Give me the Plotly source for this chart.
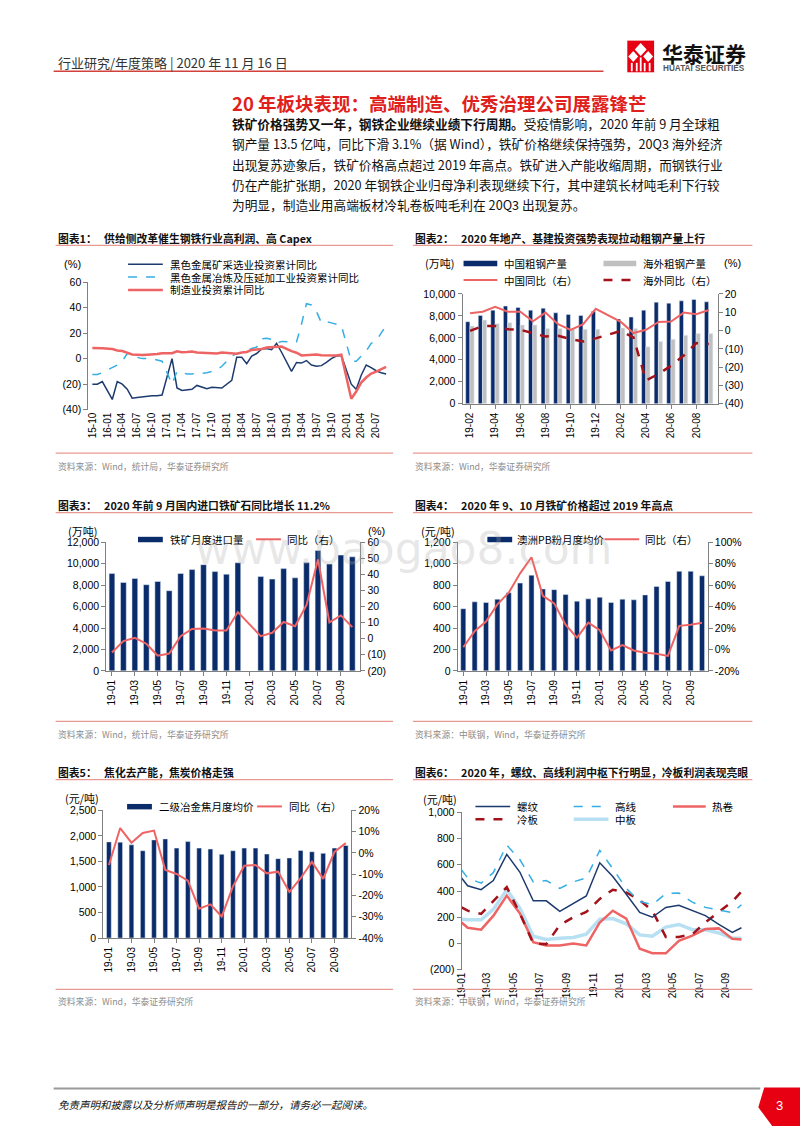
import plotly.graph_objects as go

W, H = 800, 1132
def fx(x): return x / W
def fy(y): return 1 - y / H

NUM = "Liberation Sans, Arial, Noto Sans CJK SC, sans-serif"
CJK = "Noto Sans CJK SC, Liberation Sans, sans-serif"

NAVY = "#0b2c6a"
GRAY_BAR = "#c0c0c0"
PINK = "#ee6464"
CYAN = "#36aee3"
DARKRED = "#a3121b"
LIGHTBLUE = "#b8e0f3"
NAVY_LINE = "#1d3a6e"
RED = "#e0201b"
SALMON = "#e89a92"
AXIS = "#808080"

# ---------------- data: chart 1 ----------------
c1_months = ["15-10", "15-11", "15-12",
             "16-01", "16-02", "16-03", "16-04", "16-05", "16-06", "16-07", "16-08", "16-09", "16-10", "16-11", "16-12",
             "17-01", "17-02", "17-03", "17-04", "17-05", "17-06", "17-07", "17-08", "17-09", "17-10", "17-11", "17-12",
             "18-01", "18-02", "18-03", "18-04", "18-05", "18-06", "18-07", "18-08", "18-09", "18-10", "18-11", "18-12",
             "19-01", "19-02", "19-03", "19-04", "19-05", "19-06", "19-07", "19-08", "19-09", "19-10", "19-11", "19-12",
             "20-01", "20-02", "20-03", "20-04", "20-05", "20-06", "20-07", "20-08", "20-09"]
c1_ticks = ["15-10", "16-01", "16-04", "16-07", "16-10", "17-01", "17-04", "17-07", "17-10", "18-01",
            "18-04", "18-07", "18-10", "19-01", "19-04", "19-07", "19-10", "20-01", "20-04", "20-07"]
c1_mining = [-20, -20, -18,
             None, -32, -18, -20, -24, -31, -30.5, -30, -29, -29, -29, -28.5,
             None, 0, -23, -25, -24.5, -24, -21, -22, -23.5, -22.5, -23, -23,
             None, -17, 1, 1, -4, 2, 4, 7.5, 8, 7, 12, 5,
             None, -10, -3, -3.5, -1.5, -5, -6, -5.5, -3, 0, 2, 2.5,
             None, -20, -24, -13, -5, -7, -9.5, -11, -12]
c1_smelting = [-12.5, -12.5, -11,
               None, -7, -5, -2, 4, 4, 1, 0, 0, 0, -1, -2,
               None, -20, -10, -11, -12, -12, -12, -11.5, -11, -10, -9, -6,
               None, 2, 4, 4.5, 6, 8, 9, 15.5, 16, 15, 12, 13.5,
               None, 13, 13, 27, 43, 42, 37, 28, 29, 28, 27, 26,
               None, -2, -2, 2, 6, 12, 14, 20, 26]
c1_manuf = [8.3, 8.3, 8.1,
            None, 7.5, 6.4, 6.0, 4.6, 3.3, 3.1, 2.8, 3.1, 3.1, 3.6, 4.2,
            None, 4.3, 5.8, 5.0, 5.1, 5.5, 4.8, 4.5, 4.2, 4.1, 4.1, 4.8,
            None, 4.3, 3.8, 4.8, 5.2, 6.8, 7.3, 7.5, 8.7, 9.1, 9.5, 9.5,
            None, 5.9, 4.6, 2.5, 2.7, 3.0, 3.3, 2.6, 2.5, 2.6, 2.5, 3.1,
            None, -31.5, -25.8, -18.8, -14.8, -11.7, -10.2, -8.1, -6.5]

# ---------------- data: chart 2 ----------------
c2_months = ["19-02", "19-03", "19-04", "19-05", "19-06", "19-07", "19-08", "19-09", "19-10", "19-11", "19-12",
             "20-01", "20-02", "20-03", "20-04", "20-05", "20-06", "20-07", "20-08", "20-09"]
c2_ticks = ["19-02", "19-04", "19-06", "19-08", "19-10", "19-12", "20-02", "20-04", "20-06", "20-08"]
c2_china = [7470, 8040, 8520, 8890, 8770, 8520, 8700, 8280, 8130, 8040, 8430,
            None, 7710, 7890, 8520, 9250, 9160, 9370, 9490, 9280]
c2_overseas = [7080, 7620, 7290, 7380, 7170, 7170, 6840, 6850, 6840, 6780, 6780,
               None, 6900, 6840, 5180, 5660, 5870, 6230, 6390, 6390]
c2_china_yoy = [9.4, 10.3, 13.0, 10.3, 10.3, 5.0, 9.8, 3.5, 0.3, 3.5, 11.9,
                None, 4.7, -1.4, 0.4, 4.7, 4.9, 9.8, 8.9, 11.2]
c2_overseas_yoy = [-0.2, 2.5, 2.5, 0.7, 0.4, -1.6, -3.3, -2.9, -4.7, -6.0, -4.3,
                   None, -0.2, -3.8, -27.3, -23.7, -19.2, -13.7, -6.9, -7.4]

# ---------------- data: charts 3-5 ----------------
m22 = ["19-01", "19-02", "19-03", "19-04", "19-05", "19-06", "19-07", "19-08", "19-09", "19-10", "19-11", "19-12",
       "20-01", "20-02", "20-03", "20-04", "20-05", "20-06", "20-07", "20-08", "20-09", "20-10"]
m22_ticks = ["19-01", "19-03", "19-05", "19-07", "19-09", "19-11", "20-01", "20-03", "20-05", "20-07", "20-09"]

c3_imports = [9080, 8250, 8620, 8040, 8340, 7480, 9080, 9450, 9910, 9260, 9020, 10090,
              None, 8800, 8560, 9540, 8680, 10120, 11230, 9970, 10800, 10640]
c3_yoy = [-8.6, -1.5, 0.6, -3.1, -10.6, -9.2, 1.6, 6.1, 6.3, 5.1, 5.1, 16.6,
          None, 1.6, 3.7, 10.4, 7.8, 21.0, 49.3, 10.2, 14.5, 7.2]

c4_price = [580, 644, 638, 669, 730, 819, 893, 764, 758, 712, 650, 672,
            687, 638, 669, 663, 709, 788, 834, 929, 929, 887]
c4_yoy = [2, 17, 26, 42, 53, 71, 86, 50, 43, 23, 11, 25,
          18, -1, 4, -1, -3, -4, -6, 22, 23, 25]

c5_price = [1883, 1877, 1825, 1710, 1922, 1941, 1761, 1889, 1761, 1742, 1639, 1710,
            1761, 1761, 1645, 1555, 1568, 1716, 1690, 1658, 1761, 1812]
c5_yoy = [-5.7, 11.7, 4.8, 9.4, 10.5, -8.0, -9.9, -13.0, -26.2, -24.2, -29.9, -15.7,
          -6.0, -5.7, -9.6, -8.8, -18.4, -11.9, -4.2, -12.2, 0.5, 4.6]

# ---------------- data: chart 6 ----------------
c6_dates = ["2019-01-01", "2019-01-15", "2019-02-15", "2019-03-15", "2019-04-15", "2019-05-15", "2019-06-15",
            "2019-07-15", "2019-08-15", "2019-09-15", "2019-10-15", "2019-11-15", "2019-12-15",
            "2020-01-15", "2020-02-15", "2020-03-15", "2020-04-15", "2020-05-15", "2020-06-15",
            "2020-07-15", "2020-08-15", "2020-09-15", "2020-10-06"]
c6_tickdates = ["2019-01-01", "2019-03-01", "2019-05-01", "2019-07-01", "2019-09-01", "2019-11-01",
                "2020-01-01", "2020-03-01", "2020-05-01", "2020-07-01", "2020-09-01"]
c6_ticks = ["19-01", "19-03", "19-05", "19-07", "19-09", "19-11", "20-01", "20-03", "20-05", "20-07", "20-09"]
c6_rebar = [500, 440, 410, 480, 680, 545, 325, 325, 245, 305, 362, 615, 510, 375, 237, 200, 275, 292, 250, 212, 145, 85, 120]
c6_wire = [560, 500, 460, 540, 750, 640, 470, 480, 420, 470, 500, 710, 570, 420, 320, 295, 380, 385, 315, 275, 255, 235, 295]
c6_hot = [160, 120, 105, 210, 365, 230, 10, -15, -15, 0, -15, 160, 250, 190, -40, -75, -75, 20, 60, 110, 115, 35, 30]
c6_cold = [275, 250, 225, 320, 430, 230, 0, -5, 140, 200, 240, 340, 410, 390, 330, 250, 50, 50, 70, 160, 240, 320, 395]
c6_plate = [185, 180, 180, 260, 410, 270, 55, 30, 40, 45, 70, 185, 190, 150, 65, 55, 125, 145, 105, 105, 80, 40, 40]

# ---------------- traces ----------------
fig = go.Figure()

def line(x, y, color, width, xa, ya, dash="solid"):
    fig.add_trace(go.Scatter(x=x, y=y, mode="lines", connectgaps=True,
                             line=dict(color=color, width=width, dash=dash),
                             xaxis=xa, yaxis=ya, hoverinfo="skip"))

# chart 1
line(c1_months, c1_mining, NAVY_LINE, 1.5, "x", "y")
line(c1_months, c1_smelting, CYAN, 1.5, "x", "y", "dash")
line(c1_months, c1_manuf, PINK, 2.5, "x", "y")

# chart 2
fig.add_trace(go.Bar(x=c2_months, y=c2_china, marker_color=NAVY, width=0.33, offset=-0.35,
                     xaxis="x2", yaxis="y2", hoverinfo="skip"))
fig.add_trace(go.Bar(x=c2_months, y=c2_overseas, marker_color=GRAY_BAR, width=0.33, offset=-0.01,
                     xaxis="x2", yaxis="y2", hoverinfo="skip"))
line(c2_months, c2_china_yoy, PINK, 2, "x2", "y3")
line(c2_months, c2_overseas_yoy, DARKRED, 2.5, "x2", "y3", "dash")

# chart 3
fig.add_trace(go.Bar(x=m22, y=c3_imports, marker_color=NAVY, width=0.5, xaxis="x3", yaxis="y4", hoverinfo="skip"))
line(m22, c3_yoy, PINK, 2, "x3", "y5")

# chart 4
fig.add_trace(go.Bar(x=m22, y=c4_price, marker_color=NAVY, width=0.45, xaxis="x4", yaxis="y6", hoverinfo="skip"))
line(m22, c4_yoy, PINK, 2, "x4", "y7")

# chart 5
fig.add_trace(go.Bar(x=m22, y=c5_price, marker_color=NAVY, width=0.42, xaxis="x5", yaxis="y8", hoverinfo="skip"))
line(m22, c5_yoy, PINK, 2, "x5", "y9")

# chart 6
line(c6_dates, c6_plate, LIGHTBLUE, 3.5, "x6", "y10")
line(c6_dates, c6_hot, PINK, 2.5, "x6", "y10")
line(c6_dates, c6_cold, DARKRED, 2.5, "x6", "y10", "dash")
line(c6_dates, c6_wire, CYAN, 1.5, "x6", "y10", "dash")
line(c6_dates, c6_rebar, NAVY_LINE, 1.5, "x6", "y10")

# ---------------- axes ----------------
def ax(**kw):
    d = dict(showgrid=False, zeroline=False, showline=True, linecolor=AXIS, linewidth=1,
             ticks="outside", ticklen=4, tickcolor=AXIS, tickwidth=1,
             tickfont=dict(family=NUM, size=10.5, color="#000"))
    d.update(kw)
    return d

def xcat(dom, anchor, rng, tickvals, **kw):
    return ax(domain=dom, anchor=anchor, type="category", range=rng, tickvals=tickvals,
              tickangle=-90, tickfont=dict(family=NUM, size=10, color="#000"), **kw)

def paren(v):
    return "(%d)" % abs(v) if v < 0 else "%d" % v

def zero_pos(bottom_px, top_px, lo, hi):
    return fy(bottom_px) + (0 - lo) / (hi - lo) * (fy(top_px) - fy(bottom_px))

c1_y = [-40, -20, 0, 20, 40, 60]
c2_yr = [-40, -30, -20, -10, 0, 10, 20]
c3_yr = [-20, -10, 0, 10, 20, 30, 40, 50, 60]
c4_yr = [-20, 0, 20, 40, 60, 80, 100]
c5_yr = [-40, -30, -20, -10, 0, 10, 20]
c6_y = [-200, 0, 200, 400, 600, 800, 1000]

layout_axes = dict(
    xaxis=xcat([fx(83), fx(387)], "y", [-0.8, 59.8], c1_ticks, showline=False, ticks=""),
    yaxis=ax(domain=[fy(408), fy(279)], anchor="x", range=[-40, 60], tickvals=c1_y,
             ticktext=[paren(v) for v in c1_y]),
    xaxis7=ax(overlaying="x", anchor="free", position=zero_pos(408, 279, -40, 60), type="linear",
              range=[-0.8, 59.8], tickvals=[c1_months.index(t) for t in c1_ticks], showticklabels=False),

    xaxis2=xcat([fx(460), fx(717)], "y2", [-0.6, 19.7], c2_ticks),
    yaxis2=ax(domain=[fy(402), fy(291)], anchor="x2", range=[0, 10000], dtick=2000, tickformat=","),
    yaxis3=ax(overlaying="y2", side="right", anchor="x2", range=[-40, 20], tickvals=c2_yr,
              ticktext=[paren(v) for v in c2_yr]),

    xaxis3=xcat([fx(101), fx(357)], "y4", [-0.5, 21.7], m22_ticks),
    yaxis4=ax(domain=[fy(672), fy(542)], anchor="x3", range=[0, 12000], dtick=2000, tickformat=","),
    yaxis5=ax(overlaying="y4", side="right", anchor="x3", range=[-20, 60], tickvals=c3_yr,
              ticktext=[paren(v) for v in c3_yr]),

    xaxis4=xcat([fx(455), fx(707)], "y6", [-0.5, 21.5], m22_ticks),
    yaxis6=ax(domain=[fy(672), fy(542)], anchor="x4", range=[0, 1200], dtick=200, tickformat=","),
    yaxis7=ax(overlaying="y6", side="right", anchor="x4", range=[-20, 100], tickvals=c4_yr,
              ticktext=["%d%%" % v for v in c4_yr]),

    xaxis5=xcat([fx(98), fx(348)], "y8", [-0.5, 21.5], m22_ticks),
    yaxis8=ax(domain=[fy(942), fy(813)], anchor="x5", range=[0, 2500], dtick=500, tickformat=","),
    yaxis9=ax(overlaying="y8", side="right", anchor="x5", range=[-40, 20], tickvals=c5_yr,
              ticktext=["%d%%" % v for v in c5_yr]),

    xaxis6=ax(domain=[fx(459), fx(748)], anchor="y10", type="date", range=["2019-01-01", "2020-10-22"],
              tickvals=c6_tickdates, ticktext=c6_ticks, tickangle=-90, showline=False, ticks="",
              tickfont=dict(family=NUM, size=10, color="#000")),
    yaxis10=ax(domain=[fy(974), fy(815)], anchor="x6", range=[-200, 1000], tickvals=c6_y,
               ticktext=["(200)", "0", "200", "400", "600", "800", "1,000"]),
    xaxis8=ax(overlaying="x6", anchor="free", position=zero_pos(974, 815, -200, 1000), type="date",
              range=["2019-01-01", "2020-10-22"], tickvals=c6_tickdates, showticklabels=False),
)

# ---------------- annotations & shapes ----------------
ann = []
shp = []

def txt(x, y, s, size=10.5, color="#000", family=CJK, xanchor="left", yanchor="middle"):
    ann.append(dict(x=fx(x), y=fy(y), xref="paper", yref="paper", text=s, showarrow=False,
                    xanchor=xanchor, yanchor=yanchor, font=dict(family=family, size=size, color=color)))

def hline(x0, x1, y, color, width=1, dash="solid"):
    shp.append(dict(type="line", xref="paper", yref="paper", x0=fx(x0), x1=fx(x1), y0=fy(y), y1=fy(y),
                    line=dict(color=color, width=width, dash=dash)))

def rect(x0, y0, x1, y1, color):
    shp.append(dict(type="rect", xref="paper", yref="paper", x0=fx(x0), x1=fx(x1), y0=fy(y0), y1=fy(y1),
                    line=dict(width=0), fillcolor=color))

def poly(pts, color):
    path = "M " + " L ".join("%.5f,%.5f" % (fx(a), fy(b)) for a, b in pts) + " Z"
    shp.append(dict(type="path", xref="paper", yref="paper", path=path, line=dict(width=0), fillcolor=color))

# header
txt(50, 57, "行业研究/年度策略 | 2020 年 11 月 16 日", 13, "#333")
hline(48, 602, 66, "#d2413a", 1.5)
rect(626, 35, 653, 67, "#e60012")
poly([(639.5, 37.5), (645.5, 44), (639.5, 50.5), (633.5, 44)], "white")
poly([(632, 45.5), (637, 51), (632, 56.5), (627, 51)], "white")
poly([(647, 45.5), (652, 51), (647, 56.5), (642, 51)], "white")
for xs in (630.5, 635.5, 643.5, 648.5):
    rect(xs - 0.9, 57.5, xs + 0.9, 66, "white")
rect(638.6, 52, 640.4, 66, "white")
txt(659, 47, "<b>华泰证券</b>", 21, "#111")
txt(660, 63.5, "<b>HUATAI SECURITIES</b>", 8.2, "#555", NUM)

# section title & body
txt(226, 98, "<b>20 年板块表现：高端制造、优秀治理公司展露锋芒</b>", 18.5, RED)
body = [
    "<b>铁矿价格强势又一年，钢铁企业继续业绩下行周期。</b>受疫情影响，2020 年前 9 月全球粗",
    "钢产量 13.5 亿吨，同比下滑 3.1%（据 Wind），铁矿价格继续保持强势，20Q3 海外经济",
    "出现复苏迹象后，铁矿价格高点超过 2019 年高点。铁矿进入产能收缩周期，而钢铁行业",
    "仍在产能扩张期，2020 年钢铁企业归母净利表现继续下行，其中建筑长材吨毛利下行较",
    "为明显，制造业用高端板材冷轧卷板吨毛利在 20Q3 出现复苏。",
]
for i, s in enumerate(body):
    txt(226, 119 + i * 20.4, s, 12.7, "#111")

# chart titles, rules and sources
NB = "\u00a0\u00a0\u00a0"
titles = [
    (50, 234, "图表1：" + NB + "供给侧改革催生钢铁行业高利润、高 Capex"),
    (410, 234, "图表2：" + NB + "2020 年地产、基建投资强势表现拉动粗钢产量上行"),
    (50, 504, "图表3：" + NB + "2020 年前 9 月国内进口铁矿石同比增长 11.2%"),
    (410, 504, "图表4：" + NB + "2020 年 9、10 月铁矿价格超过 2019 年高点"),
    (50, 774, "图表5：" + NB + "焦化去产能，焦炭价格走强"),
    (410, 774, "图表6：" + NB + "2020 年，螺纹、高线利润中枢下行明显，冷板利润表现亮眼"),
]
for x, y, s in titles:
    txt(x, y, "<b>" + s + "</b>", 10.8, "#111")
for x0, x1 in ((50, 390), (410, 752)):
    for y in (242, 512, 782):
        hline(x0, x1, y, SALMON, 1.3)
    for y in (452, 723, 994):
        hline(x0, x1, y, SALMON, 1.3)
sources = [
    (50, 465, "资料来源：Wind，统计局，华泰证券研究所"),
    (410, 465, "资料来源：Wind，华泰证券研究所"),
    (50, 736, "资料来源：Wind，统计局，华泰证券研究所"),
    (410, 736, "资料来源：中联钢，Wind，华泰证券研究所"),
    (50, 1006, "资料来源：Wind，华泰证券研究所"),
    (410, 1006, "资料来源：中联钢，Wind，华泰证券研究所"),
]
for x, y, s in sources:
    txt(x, y, s, 8.8, "#8c8c8c")

# unit labels
txt(67, 261, "(%)", 11, "#000", NUM, "center")
txt(437, 260, "(万吨)", 11, "#000", CJK, "center")
txt(732, 260, "(%)", 11, "#000", NUM, "center")
txt(77, 531, "(万吨)", 11, "#000", CJK, "center")
txt(373, 531, "(%)", 11, "#000", NUM, "center")
txt(435, 531, "(元/吨)", 11, "#000", CJK, "center")
txt(77, 800, "(元/吨)", 11, "#000", CJK, "center")
txt(437, 802, "(元/吨)", 11, "#000", CJK, "center")

# legends
LF = 10.5
# chart 1
hline(123, 158, 261, NAVY_LINE, 1.5)
txt(163, 261, "黑色金属矿采选业投资累计同比", LF)
hline(123, 158, 274, CYAN, 1.5, "dash")
txt(163, 274, "黑色金属冶炼及压延加工业投资累计同比", LF)
hline(123, 158, 287, PINK, 2.5)
txt(163, 287, "制造业投资累计同比", LF)
# chart 2
rect(461, 257.5, 495, 263, NAVY)
txt(500, 260, "中国粗钢产量", LF)
rect(602, 257.5, 635, 263, GRAY_BAR)
txt(640, 260, "海外粗钢产量", LF)
hline(461, 495, 277, PINK, 2)
txt(500, 277, "中国同比（右）", LF)
hline(602, 635, 277, DARKRED, 2.5, "dash")
txt(640, 277, "海外同比（右）", LF)
# chart 3
rect(133, 536.5, 158, 542, NAVY)
txt(163, 539, "铁矿月度进口量", LF)
hline(252, 277, 539, PINK, 2)
txt(281, 539, "同比（右）", LF)
# chart 4
rect(485, 536.5, 510, 542, NAVY)
txt(513, 539, "澳洲PB粉月度均价", LF)
hline(603, 638, 539, PINK, 2)
txt(642, 539, "同比（右）", LF)
# chart 5
rect(122, 806.5, 147, 812, NAVY)
txt(152, 809, "二级冶金焦月度均价", LF)
hline(253, 278, 809, PINK, 2)
txt(283, 809, "同比（右）", LF)
# chart 6
hline(473, 508, 809, NAVY_LINE, 1.5)
txt(513, 809, "螺纹", LF)
hline(572, 607, 809, CYAN, 1.5, "dash")
txt(612, 809, "高线", LF)
hline(672, 705, 809, PINK, 2.5)
txt(709, 809, "热卷", LF)
hline(473, 508, 822, DARKRED, 2.5, "dash")
txt(513, 822, "冷板", LF)
hline(572, 607, 822, LIGHTBLUE, 3.5)
txt(612, 822, "中板", LF)

# watermark
txt(400, 548, "www.baogao8.com", 44, "rgba(170,170,170,0.28)", "DejaVu Sans", "center")

# footer
hline(48, 760, 1094, "#9a9a9a", 2)
poly([(764, 1093), (800, 1093), (800, 1132), (772, 1132), (758, 1113)], "#e60012")
txt(50, 1110, "<i>免责声明和披露以及分析师声明是报告的一部分，请务必一起阅读。</i>", 10.5, "#111")
txt(779, 1111, "3", 13, "white", NUM, "center")

fig.update_layout(
    width=W, height=H, margin=dict(l=0, r=0, t=0, b=0),
    paper_bgcolor="white", plot_bgcolor="rgba(0,0,0,0)",
    showlegend=False, barmode="overlay",
    annotations=ann, shapes=shp,
    **layout_axes,
)

fig.write_html("out.html", config={"displayModeBar": False},
               post_script="document.body.style.margin='0';document.body.style.overflow='hidden';")
